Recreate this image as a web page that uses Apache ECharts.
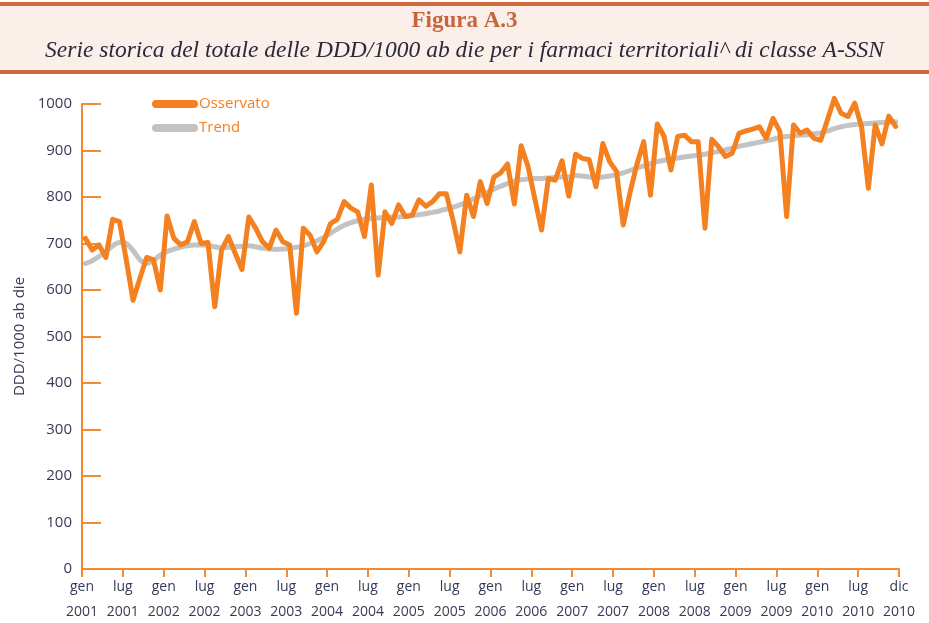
<!DOCTYPE html>
<html>
<head>
<meta charset="utf-8">
<script src="https://cdn.jsdelivr.net/npm/echarts@6/dist/echarts.min.js"></script>
<style>
  html, body { margin: 0; padding: 0; background: #fff; }
  #chart { width: 929px; height: 623px; }
</style>
</head>
<body>
<div id="chart"></div>
<script>

// mesi e anni (gen 2001 - dic 2010)
var monthNames = ['gen', 'feb', 'mar', 'apr', 'mag', 'giu', 'lug', 'ago', 'set', 'ott', 'nov', 'dic'];
var years = [2001, 2002, 2003, 2004, 2005, 2006, 2007, 2008, 2009, 2010];

// etichette dell'asse x, una ogni sei mesi
var tickLabels = [
    'gen\n2001', 'lug\n2001', 'gen\n2002', 'lug\n2002', 'gen\n2003', 'lug\n2003',
    'gen\n2004', 'lug\n2004', 'gen\n2005', 'lug\n2005', 'gen\n2006', 'lug\n2006',
    'gen\n2007', 'lug\n2007', 'gen\n2008', 'lug\n2008', 'gen\n2009', 'lug\n2009',
    'gen\n2010', 'lug\n2010', 'dic\n2010'
];

// DDD/1000 ab die osservate, mese per mese
var osservato = [
    711, 686, 697, 670, 752, 747, 665, 578, 625, 670, 665, 600,
    759, 711, 697, 704, 747, 700, 702, 564, 686, 715, 679, 644,
    757, 733, 704, 690, 729, 704, 697, 550, 733, 718, 682, 704,
    743, 752, 790, 776, 768, 715, 826, 632, 768, 743, 783, 758,
    761, 794, 780, 790, 807, 807, 750, 682, 804, 758, 833, 786,
    843, 852, 871, 785, 910, 866, 797, 729, 840, 836, 878, 802,
    892, 883, 880, 822, 915, 876, 855, 740, 810, 870, 919, 804,
    957, 930, 858, 930, 933, 919, 919, 733, 924, 908, 887, 894,
    937, 942, 946, 951, 926, 969, 941, 758, 955, 937, 944, 926,
    922, 966, 1012, 980, 973, 1002, 951, 819, 955, 914, 974, 952
];

// trend
var trend = [
    657, 663, 672, 683, 695, 702, 700, 685, 665, 657, 663, 675,
    683, 688, 692, 695, 697, 697, 696, 693, 691, 692, 693, 694,
    695, 693, 690, 688, 687, 688, 690, 692, 695, 700, 706, 713,
    722, 731, 739, 745, 749, 752, 754, 755, 756, 757, 757, 758,
    760, 762, 764, 767, 770, 774, 778, 783, 789, 796, 803, 810,
    817, 823, 829, 834, 837, 839, 840, 840, 841, 842, 843, 843,
    846, 845, 843, 842, 843, 845, 848, 852, 857, 862, 867, 872,
    876, 879, 882, 884, 886, 888, 890, 892, 895, 898, 901, 905,
    909, 912, 915, 918, 921, 924, 928, 930, 932, 933, 934, 936,
    938, 942, 947, 951, 954, 956, 957, 958, 959, 960, 961, 962
];

var categories = [];
years.forEach(function(y) {
    monthNames.forEach(function(m) {
        categories.push(m + ' ' + y);
    });
});

var orange = '#f4801f';
var axisOrange = '#f58a35';
var labelColor = '#3a3954';
var font = 'Open Sans';
var capsule = 'path://M4,0 H42 A4,4 0 0 1 42,8 H4 A4,4 0 0 1 4,0 Z';

var myChart = echarts.init(document.getElementById('chart'), null, {renderer: 'canvas'});

var option = {
    backgroundColor: '#ffffff',
    animation: false,
    graphic: [
        {type: 'rect', z: 0, shape: {x: 0, y: 5, width: 929, height: 66}, style: {fill: '#fbefe9'}},
        {type: 'rect', z: 0, shape: {x: 0, y: 2, width: 929, height: 4}, style: {fill: '#cf6a3e'}},
        {type: 'rect', z: 0, shape: {x: 0, y: 70, width: 929, height: 4}, style: {fill: '#cf6a3e'}}
    ],
    title: {
        text: 'Figura A.3',
        subtext: 'Serie storica del totale delle DDD/1000 ab die per i farmaci territoriali^ di classe A-SSN',
        left: 'center',
        top: 5,
        itemGap: 6,
        textStyle: {fontFamily: 'Liberation Serif', fontWeight: 'bold', fontSize: 23, color: '#c8643c'},
        subtextStyle: {fontFamily: 'Liberation Serif', fontStyle: 'italic', fontSize: 23.5, color: '#2a2a38'}
    },
    legend: {
        orient: 'vertical',
        left: 147,
        top: 91,
        itemWidth: 46,
        itemHeight: 8,
        itemGap: 8,
        data: [
            {name: 'Osservato', icon: capsule},
            {name: 'Trend', icon: capsule}
        ],
        textStyle: {color: orange, fontFamily: font, fontSize: 15, lineHeight: 16, padding: [0, 0, 0, -4]}
    },
    grid: {left: 82, right: 30, top: 104, bottom: 54, containLabel: false, outerBoundsMode: 'none'},
    xAxis: [
        {
            type: 'category',
            data: categories,
            boundaryGap: true,
            show: false
        },
        {
            type: 'value',
            min: 0,
            max: 120,
            interval: 6,
            position: 'bottom',
            axisLine: {show: true, lineStyle: {color: axisOrange, width: 2}},
            axisTick: {show: true, length: 8, lineStyle: {color: axisOrange, width: 2}},
            splitLine: {show: false},
            axisLabel: {
                color: labelColor,
                fontFamily: font,
                fontSize: 14,
                lineHeight: 25,
                margin: 6,
                formatter: function(v) { return tickLabels[v / 6]; }
            }
        }
    ],
    yAxis: {
        type: 'value',
        min: 0,
        max: 1000,
        interval: 100,
        name: 'DDD/1000 ab die',
        nameLocation: 'middle',
        nameRotate: 90,
        nameGap: 43,
        nameTextStyle: {color: labelColor, fontFamily: font, fontSize: 15},
        axisLine: {show: true, lineStyle: {color: axisOrange, width: 2}},
        axisTick: {show: true, inside: true, length: 19, lineStyle: {color: axisOrange, width: 2}},
        splitLine: {show: false},
        axisLabel: {
            color: labelColor,
            fontFamily: font,
            fontSize: 15,
            margin: 10,
            formatter: function(v) { return String(v); }
        }
    },
    series: [
        {
            name: 'Trend',
            type: 'line',
            xAxisIndex: 0,
            data: trend,
            symbol: 'none',
            smooth: 0.3,
            clip: false,
            itemStyle: {color: '#c3c3c3'},
            lineStyle: {color: '#c3c3c3', width: 5, cap: 'round', join: 'round'},
            z: 2
        },
        {
            name: 'Osservato',
            type: 'line',
            xAxisIndex: 0,
            data: osservato,
            symbol: 'none',
            clip: false,
            itemStyle: {color: orange},
            lineStyle: {color: orange, width: 5, cap: 'round', join: 'round'},
            z: 3
        }
    ]
};

myChart.setOption(option);
</script>
</body>
</html>
